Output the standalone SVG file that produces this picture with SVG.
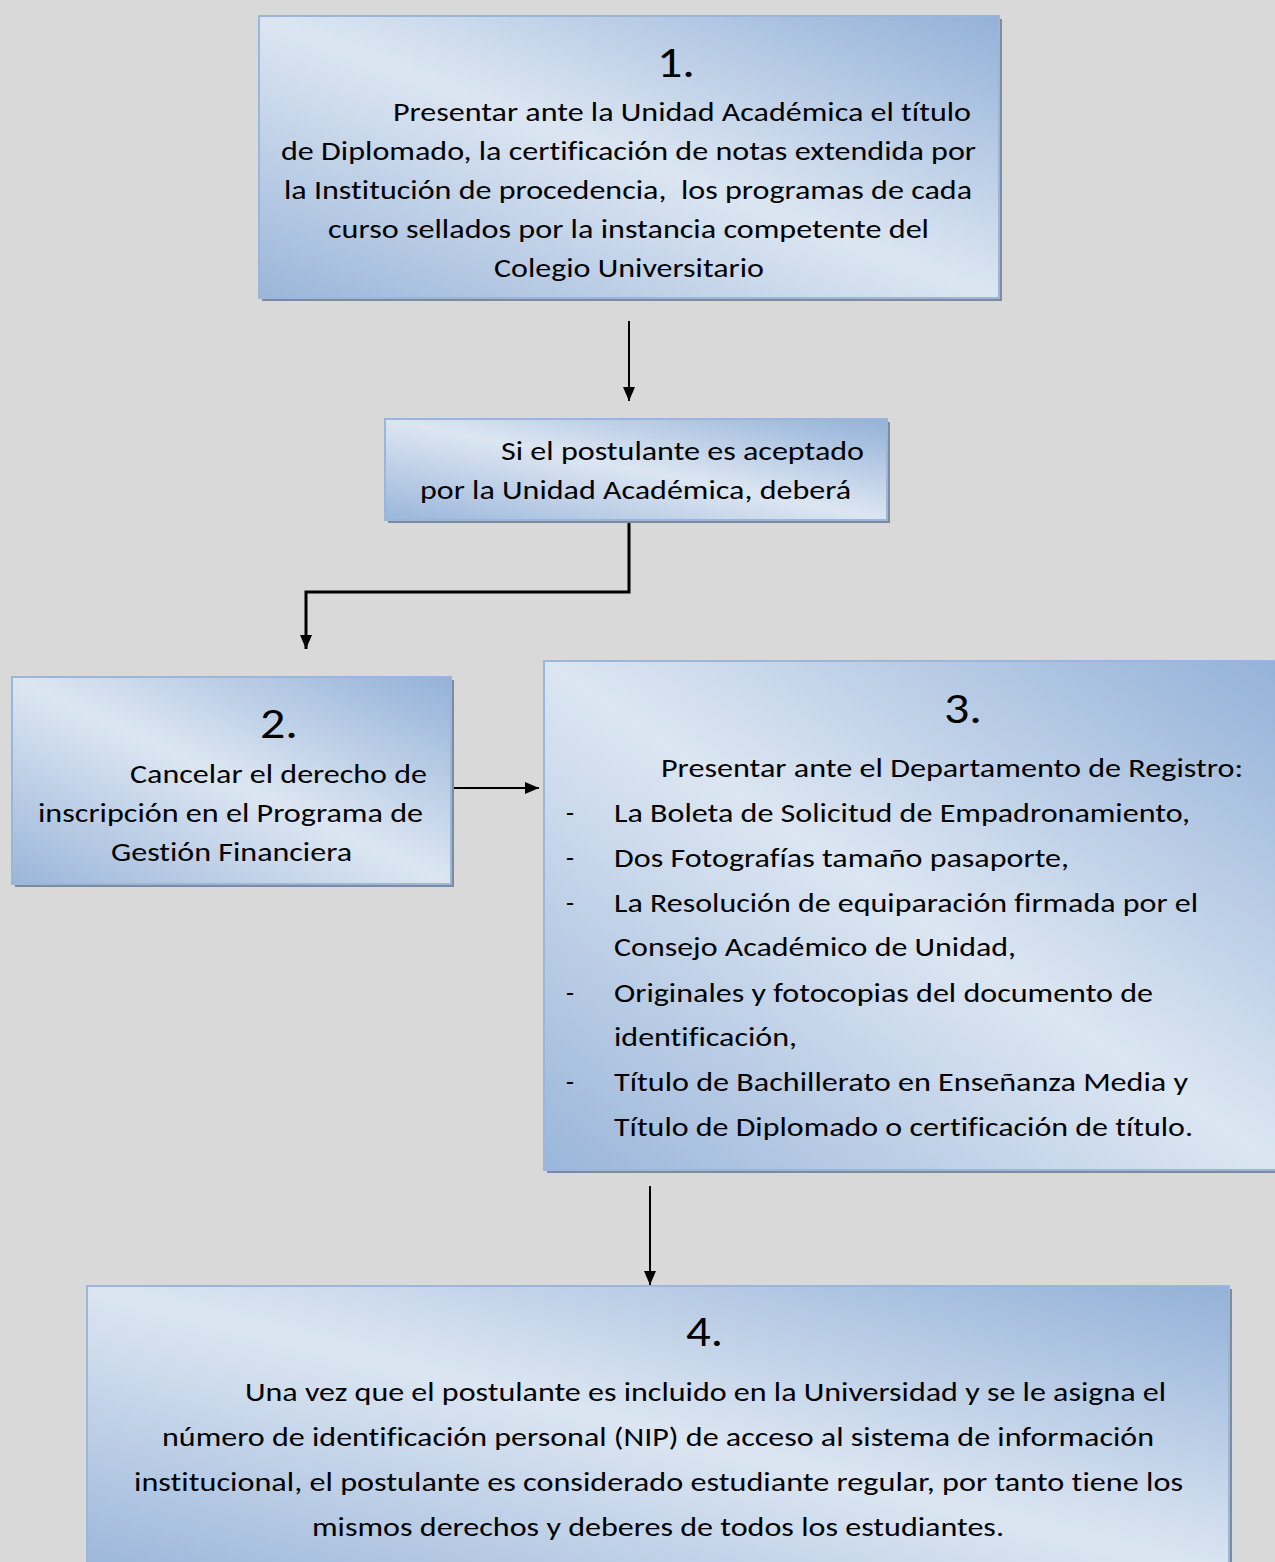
<svg xmlns="http://www.w3.org/2000/svg" width="1275" height="1562" viewBox="0 0 1275 1562">
<defs>
<linearGradient id="g" x1="1" y1="0" x2="0" y2="1">
<stop offset="0" stop-color="#93b1d8"/>
<stop offset="0.5" stop-color="#dce6f2"/>
<stop offset="1" stop-color="#9bb6da"/>
</linearGradient>
<marker id="ah" viewBox="0 0 14 12" refX="14" refY="6" markerWidth="14" markerHeight="12" markerUnits="userSpaceOnUse" orient="auto">
<path d="M0,0 L14,6 L0,12 Z" fill="#000"/>
</marker>
<style>
.box{fill:url(#g);stroke:#9ab6da;stroke-width:2}
.sh{fill:#7e8b9c}
text{font-family:Carlito,Lato,"Liberation Sans",sans-serif;font-size:26px;fill:#000;font-variant-ligatures:none}
.num{font-size:44px}
.ln{fill:none;stroke:#000;stroke-width:2}
.lnb{fill:none;stroke:#000;stroke-width:3}
</style>
</defs>
<rect width="1275" height="1562" fill="#d9d9d9"/>
<g id="connectors">
<line class="ln" x1="629" y1="321" x2="629" y2="401" marker-end="url(#ah)"/>
<polyline class="lnb" points="629,520 629,592 306,592 306,649" marker-end="url(#ah)"/>
<line class="ln" x1="451" y1="788" x2="539" y2="788" marker-end="url(#ah)"/>
<line class="ln" x1="650" y1="1186" x2="650" y2="1285" marker-end="url(#ah)"/>
</g>
<g id="node1">
<rect class="sh" x="262" y="19" width="740" height="282"/>
<rect class="box" x="259" y="16" width="740" height="282"/>
<text class="num" x="657" y="77" textLength="38" lengthAdjust="spacingAndGlyphs">1.</text>
<text x="393" y="121" textLength="578" lengthAdjust="spacingAndGlyphs">Presentar ante la Unidad Académica el título</text>
<text x="281" y="160" textLength="695" lengthAdjust="spacingAndGlyphs">de Diplomado, la certificación de notas extendida por</text>
<text x="284" y="199" textLength="688" lengthAdjust="spacingAndGlyphs" xml:space="preserve">la Institución de procedencia,  los programas de cada</text>
<text x="328" y="238" textLength="601" lengthAdjust="spacingAndGlyphs">curso sellados por la instancia competente del</text>
<text x="494" y="277" textLength="270" lengthAdjust="spacingAndGlyphs">Colegio Universitario</text>
</g>
<g id="nodeA">
<rect class="sh" x="388" y="422" width="502" height="101"/>
<rect class="box" x="385" y="419" width="502" height="101"/>
<text x="501" y="460" textLength="363" lengthAdjust="spacingAndGlyphs">Si el postulante es aceptado</text>
<text x="420" y="499" textLength="431" lengthAdjust="spacingAndGlyphs">por la Unidad Académica, deberá</text>
</g>
<g id="node2">
<rect class="sh" x="15" y="680" width="439" height="207"/>
<rect class="box" x="12" y="677" width="439" height="207"/>
<text class="num" x="260" y="738" textLength="38" lengthAdjust="spacingAndGlyphs">2.</text>
<text x="130" y="783" textLength="297" lengthAdjust="spacingAndGlyphs">Cancelar el derecho de</text>
<text x="38" y="822" textLength="385" lengthAdjust="spacingAndGlyphs">inscripción en el Programa de</text>
<text x="111" y="861" textLength="241" lengthAdjust="spacingAndGlyphs">Gestión Financiera</text>
</g>
<g id="node3">
<rect class="sh" x="547" y="664" width="740" height="509"/>
<rect class="box" x="544" y="661" width="740" height="509"/>
<text class="num" x="944" y="723" textLength="38" lengthAdjust="spacingAndGlyphs">3.</text>
<text x="661" y="777" textLength="582" lengthAdjust="spacingAndGlyphs">Presentar ante el Departamento de Registro:</text>
<text x="566" y="822">-</text>
<text x="614" y="822" textLength="576" lengthAdjust="spacingAndGlyphs">La Boleta de Solicitud de Empadronamiento,</text>
<text x="566" y="867">-</text>
<text x="614" y="867" textLength="455" lengthAdjust="spacingAndGlyphs">Dos Fotografías tamaño pasaporte,</text>
<text x="566" y="912">-</text>
<text x="614" y="912" textLength="584" lengthAdjust="spacingAndGlyphs">La Resolución de equiparación firmada por el</text>
<text x="614" y="956" textLength="402" lengthAdjust="spacingAndGlyphs">Consejo Académico de Unidad,</text>
<text x="566" y="1002">-</text>
<text x="614" y="1002" textLength="539" lengthAdjust="spacingAndGlyphs">Originales y fotocopias del documento de</text>
<text x="614" y="1046" textLength="183" lengthAdjust="spacingAndGlyphs">identificación,</text>
<text x="566" y="1091">-</text>
<text x="614" y="1091" textLength="574" lengthAdjust="spacingAndGlyphs">Título de Bachillerato en Enseñanza Media y</text>
<text x="614" y="1136" textLength="579" lengthAdjust="spacingAndGlyphs">Título de Diplomado o certificación de título.</text>
</g>
<g id="node4">
<rect class="sh" x="90" y="1289" width="1142" height="290"/>
<rect class="box" x="87" y="1286" width="1142" height="290"/>
<text class="num" x="686" y="1346" textLength="37" lengthAdjust="spacingAndGlyphs">4.</text>
<text x="245" y="1401" textLength="921" lengthAdjust="spacingAndGlyphs">Una vez que el postulante es incluido en la Universidad y se le asigna el</text>
<text x="162" y="1446" textLength="992" lengthAdjust="spacingAndGlyphs">número de identificación personal (NIP) de acceso al sistema de información</text>
<text x="134" y="1491" textLength="1049" lengthAdjust="spacingAndGlyphs">institucional, el postulante es considerado estudiante regular, por tanto tiene los</text>
<text x="312" y="1536" textLength="692" lengthAdjust="spacingAndGlyphs">mismos derechos y deberes de todos los estudiantes.</text>
</g>
</svg>
